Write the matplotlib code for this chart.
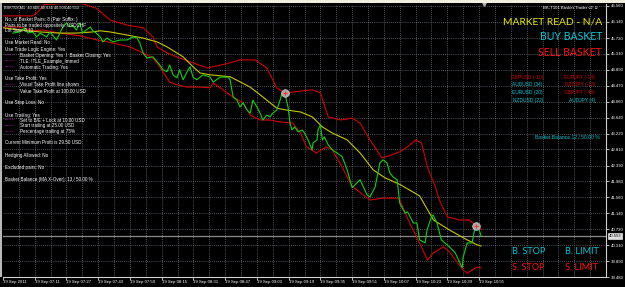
import matplotlib
matplotlib.use('Agg')
import matplotlib.pyplot as plt
from matplotlib.patches import Rectangle

W, H = 625, 287

# ---------------- data (minutes after 06:55, price) ----------------
time_label_minutes = [0, 16, 32, 48, 64, 80, 96, 112, 128, 144, 160, 176, 192, 208, 224, 240]
time_labels = ['19 Sep 2011', '19 Sep 07:11', '19 Sep 07:27', '19 Sep 07:43', '19 Sep 07:59',
               '19 Sep 08:15', '19 Sep 08:31', '19 Sep 08:47', '19 Sep 09:03', '19 Sep 09:19',
               '19 Sep 09:35', '19 Sep 09:51', '19 Sep 10:07', '19 Sep 10:23', '19 Sep 10:39',
               '19 Sep 10:55']
price_ticks = [46.560, 46.140, 45.720, 45.310, 44.890, 44.470, 44.060, 43.640, 43.220,
               42.810, 42.390, 41.980, 41.560, 41.140, 40.730, 40.310, 39.890, 39.480]
price_labels = ['46.560', '46.140', '45.720', '45.310', '44.890', '44.470', '44.060', '43.640',
                '43.220', '42.810', '42.390', '41.980', '41.560', '41.140', '40.730', '40.310',
                '39.890', '39.480']

green_t = [5, 8.5, 11, 12.6, 15, 17, 18.7, 22, 23.7, 27, 28.7, 30, 32, 33.8, 35, 37, 38.8, 40, 42,
           44, 45, 47, 49, 50.4, 52.4, 55.5, 59, 62.5, 65.6, 67.6, 69, 70.6, 72.6, 75.6, 79, 80.7,
           82.7, 84, 85.7, 87.7, 89, 90.8, 92.8, 94.3, 95.8, 97.8, 99.3, 100.9, 104.4, 106, 109.4,
           113.5, 114.5, 116, 118, 119.5, 121, 123, 124.6, 126, 128, 129.6, 131, 133, 134.6, 136,
           138, 139.7, 140.7, 142, 143.7, 144.7, 145.7, 147, 148.8, 150.8, 152, 153.8, 155.8, 156.3,
           158.3, 158.8, 160, 161, 162, 164, 166, 168.4, 171, 173.5, 176, 180, 183.6, 185, 187.6,
           190, 191.6, 193.6, 195, 196.7, 198.7, 200, 202.7, 204, 206.8, 208.7, 210, 212.8, 213.8,
           216, 216.8, 218.8, 221, 225, 228, 231.5, 232, 234, 236.5, 238, 239, 241]
green_p = [45.85, 45.88, 45.99, 45.85, 45.88, 45.75, 45.85, 45.75, 45.88, 45.67, 45.85, 45.99,
           46.12, 46.01, 46.06, 45.93, 46.12, 45.85, 45.93, 46.01, 45.93, 45.85, 45.75, 45.62,
           45.72, 45.62, 45.67, 45.67, 45.75, 45.72, 45.59, 45.33, 45.20, 45.23, 45.02, 44.89,
           44.84, 45.02, 44.76, 44.68, 44.89, 44.63, 44.84, 44.97, 44.70, 44.63, 44.70, 44.76,
           44.70, 44.57, 44.70, 44.70, 44.63, 44.18, 44.10, 43.92, 44.03, 43.84, 43.76, 44.10,
           43.92, 43.76, 43.58, 43.71, 43.66, 43.76, 43.84, 44.10, 44.29, 44.29, 43.92, 43.50,
           43.32, 43.40, 43.27, 43.32, 43.24, 43.06, 42.80, 42.98, 43.06, 43.32, 43.45, 43.06,
           43.14, 42.93, 42.80, 42.72, 42.62, 42.28, 41.81, 42.02, 41.62, 41.57, 41.83, 42.46,
           42.54, 42.46, 42.20, 42.09, 42.02, 41.41, 41.15, 41.18, 40.89, 40.89, 40.45, 40.37,
           40.71, 41.05, 41.10, 40.89, 40.45, 40.27, 40.11, 39.72, 40.00, 40.37, 40.37, 40.79,
           40.89, 40.553]

yellow_t = [0, 8.5, 18.7, 28.7, 37, 45, 49, 54, 62.5, 70.6, 77.7, 82.7, 90.8, 95.8, 99.3, 104.4,
            114.5, 124.6, 133, 138, 143, 150, 156, 161, 166, 173.5, 180, 186.6, 192.6, 200, 210,
            217, 225, 234, 239, 241]
yellow_p = [45.99, 45.93, 45.88, 45.85, 45.85, 45.88, 45.91, 45.88, 45.80, 45.72, 45.62, 45.49,
            45.23, 44.97, 44.81, 44.76, 44.71, 44.44, 44.10, 43.89, 43.84, 43.79, 43.66, 43.40,
            43.24, 43.06, 42.72, 42.28, 42.07, 41.90, 41.60, 40.97, 40.71, 40.45, 40.32, 40.29]

upper_t = [0, 15, 17.6, 21, 30, 40, 47, 54, 62.5, 70.6, 75.6, 77.7, 82.7, 89, 96, 103, 112, 119.5,
           127, 133, 138, 142, 146, 156, 160, 164, 170, 176, 180, 185, 191, 196, 200, 204, 208,
           211, 214, 218, 220, 224, 230, 235, 239.5, 241]
upper_p = [46.30, 46.30, 46.40, 46.60, 46.62, 46.62, 46.50, 46.19, 46.06, 45.99, 45.75, 45.49,
           45.33, 45.20, 45.07, 44.94, 45.04, 45.15, 45.15, 44.94, 44.42, 44.29, 44.31, 44.37,
           44.29, 43.66, 43.58, 43.63, 43.50, 43.06, 42.59, 42.67, 42.75, 42.88, 43.06, 42.98,
           42.35, 41.83, 41.49, 41.05, 40.97, 40.97, 40.79, 40.72]

lower_t = [0, 8.5, 15, 20, 28.7, 38.8, 47.4, 55.5, 64, 70.6, 75.6, 79, 84, 87.7, 92.8, 99.3, 104.4,
           106, 116, 121, 124.6, 129.6, 134.6, 139.7, 146, 150, 153, 158, 163, 166, 171, 175, 176.5,
           185, 191.6, 198.7, 200, 205, 210, 214, 217, 222, 225, 232, 234, 239, 241]
lower_p = [46.01, 46.01, 45.91, 45.93, 45.85, 45.78, 45.67, 45.59, 45.49, 45.33, 45.20, 44.97,
           44.57, 44.50, 44.44, 44.44, 44.42, 44.55, 44.18, 44.03, 43.71, 43.58, 43.58, 43.53,
           43.50, 43.24, 42.88, 42.72, 42.88, 42.80, 42.35, 41.94, 41.83, 41.49, 41.54, 41.54,
           41.49, 40.89, 40.37, 39.92, 40.11, 40.27, 40.14, 39.66, 39.58, 39.74, 39.72]

arrow_t = [142, 238.5]
arrow_p = [44.29, 40.82]
bid_price = 40.553

info_lines = [
    (19, '', 'No. of Basket Pairs: 8 (Pair Suffix: )'),
    (25, '', 'Pairs to be traded oppositely: USDCHF'),
    (31, '', 'Lot Size: 0.10'),
    (43, '', 'Use Market Read: No'),
    (49, '', 'Use Trade Logic Engine: Yes'),
    (55, '-------', 'Basket Opening: Yes  /  Basket Closing: Yes'),
    (61, '-------', 'TLE: !TLE_Example_Immed'),
    (67, '-------', 'Automatic Trading: Yes'),
    (79, '', 'Use Take Profit: Yes'),
    (85, '-------', 'Visual Take Profit line shown'),
    (91, '-------', 'Value Take Profit at 100.00 USD'),
    (103, '', 'Use Stop Loss: No'),
    (115, '', 'Use Trailing: Yes'),
    (120, '-------', 'Set to B/E + Lock at 10.00 USD'),
    (126, '-------', 'Start trailing at 25.00 USD'),
    (132, '-------', 'Percentage trailing at 75%'),
    (143, '', 'Current Minimum Profit is 29.50 USD'),
    (156, '', 'Hedging Allowed: No'),
    (168, '', 'Excluded pairs: No'),
    (180, '', 'Basket Balance (MA X-Over): 13 / 50.00 %'),
]
pairs_left = [('GBPUSD (-10)', 'red'), ('AUDUSD (34)', 'cyan'), ('EURUSD (20)', 'cyan'), ('NZDUSD (22)', 'cyan')]
pairs_right = [('EURJPY (-14)', 'red'), ('NZDJPY (-13)', 'red'), ('GBPJPY (-43)', 'red'), ('AUDJPY (4)', 'cyan')]

# ---------------- figure ----------------
RED = '#d40000'
CYAN = '#00c8d8'
SMALL = ['Liberation Sans', 'DejaVu Sans']
fig = plt.figure(figsize=(W / 100, H / 100), dpi=100, facecolor='black')
ax = fig.add_axes([3 / W, 10 / H, 603 / W, 273 / H])
ax.set_facecolor('black')
ax.set_xlim(0, 304)
ax.set_ylim(39.48, 46.61)

# grid
for m in range(8, 304, 8):
    ax.axvline(m, color='#7d8896', lw=0.5, ls=(0, (1.2, 1.8)), zorder=1)
for p in price_ticks:
    ax.axhline(p, color='#7d8896', lw=0.5, ls=(0, (1.2, 1.8)), zorder=1)

ax.plot(upper_t, upper_p, color=RED, lw=0.8, zorder=3)
ax.plot(lower_t, lower_p, color=RED, lw=0.8, zorder=3)
ax.plot(yellow_t, yellow_p, color='#c8c800', lw=0.8, zorder=3)
ax.plot(green_t, green_p, color='#10d010', lw=0.8, zorder=4)
ax.axhline(bid_price, color='#8c8c8c', lw=0.9, zorder=2)
ax.plot(arrow_t, arrow_p, 'o', ms=5.5, mfc='#a8a8a8', mec='#c8c8c8', mew=0.5, zorder=5)
ax.plot(arrow_t, arrow_p, '+', ms=2.5, color='#ff3020', mew=0.8, zorder=6)
ax.plot([242.6], [46.60], 'v', ms=2.5, color='#b0b0b0', clip_on=False, zorder=6)

# axes styling
for s in ['top', 'left']:
    ax.spines[s].set_visible(False)
ax.spines['right'].set_color('#d0d0d0')
ax.spines['bottom'].set_color('#d0d0d0')
ax.spines['right'].set_linewidth(0.8)
ax.spines['bottom'].set_linewidth(0.8)
ax.yaxis.tick_right()
ax.set_yticks(price_ticks)
ax.set_yticklabels(price_labels)
ax.set_xticks(time_label_minutes)
ax.set_xticklabels(time_labels)
ax.tick_params(axis='y', colors='white', labelsize=3.1, length=2, width=0.5, pad=1.5)
ax.tick_params(axis='x', colors='white', labelsize=3.1, length=2, width=0.5, pad=0.5)
for lab in ax.get_xticklabels():
    lab.set_horizontalalignment('left')
for lab in ax.get_yticklabels() + ax.get_xticklabels():
    lab.set_family(SMALL)

# bid label box
ax.text(1.005, bid_price, '40.553', transform=ax.get_yaxis_transform(), fontsize=3.1,
        color='black', va='center', ha='left', family=SMALL,
        bbox=dict(boxstyle='square,pad=0.15', fc='#e0e0e0', ec='white', lw=0.4), zorder=10)

# frame decorations
fig.patches.append(Rectangle((0, 1 - 3 / H), 1, 3 / H, transform=fig.transFigure,
                             fc='#f2eedc', ec='none'))
fig.patches.append(Rectangle((0, 10 / H), 2 / W, 274 / H, transform=fig.transFigure,
                             fc='#b8b8b8', ec='none'))


def ftext(x, y, s, **kw):
    fam = kw.pop('family', SMALL)
    return fig.text(x / W, 1 - y / H, s, va='center', family=fam, **kw)


ftext(4, 8, 'BSKT08,M1  40.606 40.634 40.504 40.553', fontsize=2.8, color='white')
for y, dash, txt in info_lines:
    if dash:
        ftext(5, y, dash, fontsize=3.3, color='#c020c0')
        ftext(20, y, txt, fontsize=3.3, color='white')
    else:
        ftext(5, y, txt, fontsize=3.3, color='white')

ftext(598, 8, 'BK-T101 Basket Trader v2 \u263a', fontsize=3.1, color='white', ha='right')

BIG = ['Lato', 'DejaVu Sans']
ftext(602, 22, 'MARKET READ - N/A', fontsize=7.4, color='#e8e800', ha='right', family=BIG)
ftext(602, 36, 'BUY BASKET', fontsize=7.6, color=CYAN, ha='right', family=BIG)
ftext(602, 52, 'SELL BASKET', fontsize=7.6, color='#ff1010', ha='right', family=BIG)

for i, (s, c) in enumerate(pairs_left):
    ftext(543, 77 + i * 7.7, s, fontsize=3.5, color=(RED if c == 'red' else CYAN), ha='right')
for i, (s, c) in enumerate(pairs_right):
    ftext(595, 77 + i * 7.7, s, fontsize=3.5, color=(RED if c == 'red' else CYAN), ha='right')

ftext(600, 137, 'Basket Balance 12 / 50.00 %', fontsize=3.6, color=CYAN, ha='right')

ftext(512, 252, 'B. STOP', fontsize=6.6, color=CYAN, ha='left', family=BIG)
ftext(565, 252, 'B. LIMIT', fontsize=6.6, color=CYAN, ha='left', family=BIG)
ftext(512, 267, 'S. STOP', fontsize=6.6, color='#ff1010', ha='left', family=BIG)
ftext(565, 267, 'S. LIMIT', fontsize=6.6, color='#ff1010', ha='left', family=BIG)

fig.savefig('out.png', dpi=100, facecolor='black')
